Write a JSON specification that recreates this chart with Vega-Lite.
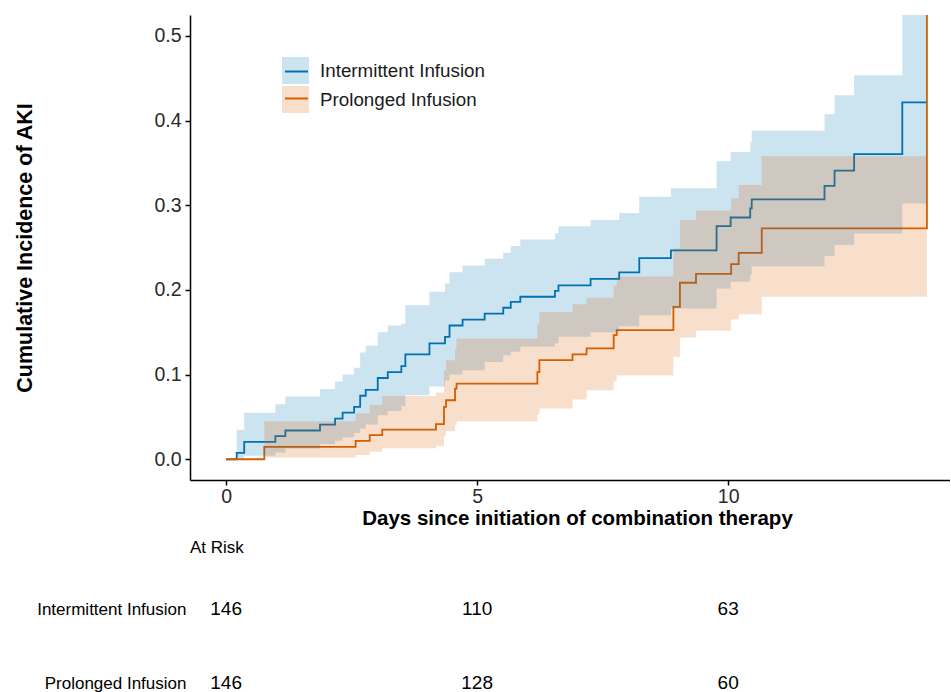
{
  "$schema": "https://vega.github.io/schema/vega-lite/v6.json",
  "padding": {"left": 14, "top": 15, "right": 0, "bottom": 0},
  "spacing": 10,
  "config": {
    "font": "Liberation Sans",
    "view": {"stroke": null},
    "axis": {"grid": false}
  },
  "resolve": {"scale": {"y": "independent"}},
  "datasets": {
    "curves": [
      {"group": "Intermittent Infusion", "time": 0, "est": 0, "lower": 0, "upper": 0},
      {"group": "Intermittent Infusion", "time": 0.21, "est": 0.0075, "lower": 0.001, "upper": 0.035},
      {"group": "Intermittent Infusion", "time": 0.36, "est": 0.0205, "lower": 0.004, "upper": 0.055},
      {"group": "Intermittent Infusion", "time": 0.98, "est": 0.0274, "lower": 0.008, "upper": 0.065},
      {"group": "Intermittent Infusion", "time": 1.18, "est": 0.034, "lower": 0.0126, "upper": 0.074},
      {"group": "Intermittent Infusion", "time": 1.87, "est": 0.041, "lower": 0.018, "upper": 0.083},
      {"group": "Intermittent Infusion", "time": 2.17, "est": 0.048, "lower": 0.022, "upper": 0.092},
      {"group": "Intermittent Infusion", "time": 2.32, "est": 0.055, "lower": 0.026, "upper": 0.1},
      {"group": "Intermittent Infusion", "time": 2.55, "est": 0.062, "lower": 0.031, "upper": 0.108},
      {"group": "Intermittent Infusion", "time": 2.67, "est": 0.075, "lower": 0.036, "upper": 0.126},
      {"group": "Intermittent Infusion", "time": 2.78, "est": 0.082, "lower": 0.041, "upper": 0.134},
      {"group": "Intermittent Infusion", "time": 3.02, "est": 0.096, "lower": 0.052, "upper": 0.15},
      {"group": "Intermittent Infusion", "time": 3.22, "est": 0.103, "lower": 0.057, "upper": 0.158},
      {"group": "Intermittent Infusion", "time": 3.49, "est": 0.11, "lower": 0.063, "upper": 0.16},
      {"group": "Intermittent Infusion", "time": 3.57, "est": 0.124, "lower": 0.0756, "upper": 0.182},
      {"group": "Intermittent Infusion", "time": 4.05, "est": 0.137, "lower": 0.086, "upper": 0.198},
      {"group": "Intermittent Infusion", "time": 4.36, "est": 0.1446, "lower": 0.093, "upper": 0.2075},
      {"group": "Intermittent Infusion", "time": 4.45, "est": 0.158, "lower": 0.1, "upper": 0.221},
      {"group": "Intermittent Infusion", "time": 4.71, "est": 0.165, "lower": 0.105, "upper": 0.229},
      {"group": "Intermittent Infusion", "time": 5.15, "est": 0.172, "lower": 0.115, "upper": 0.237},
      {"group": "Intermittent Infusion", "time": 5.52, "est": 0.179, "lower": 0.123, "upper": 0.244},
      {"group": "Intermittent Infusion", "time": 5.67, "est": 0.186, "lower": 0.127, "upper": 0.2518},
      {"group": "Intermittent Infusion", "time": 5.86, "est": 0.192, "lower": 0.133, "upper": 0.2597},
      {"group": "Intermittent Infusion", "time": 6.55, "est": 0.199, "lower": 0.137, "upper": 0.267},
      {"group": "Intermittent Infusion", "time": 6.62, "est": 0.2055, "lower": 0.1446, "upper": 0.2754},
      {"group": "Intermittent Infusion", "time": 7.26, "est": 0.213, "lower": 0.15, "upper": 0.2825},
      {"group": "Intermittent Infusion", "time": 7.83, "est": 0.2207, "lower": 0.157, "upper": 0.291},
      {"group": "Intermittent Infusion", "time": 8.23, "est": 0.2375, "lower": 0.17, "upper": 0.31},
      {"group": "Intermittent Infusion", "time": 8.86, "est": 0.2467, "lower": 0.178, "upper": 0.32},
      {"group": "Intermittent Infusion", "time": 9.77, "est": 0.2754, "lower": 0.2017, "upper": 0.352},
      {"group": "Intermittent Infusion", "time": 10.05, "est": 0.2856, "lower": 0.2096, "upper": 0.363},
      {"group": "Intermittent Infusion", "time": 10.44, "est": 0.2963, "lower": 0.218, "upper": 0.375},
      {"group": "Intermittent Infusion", "time": 10.47, "est": 0.307, "lower": 0.228, "upper": 0.388},
      {"group": "Intermittent Infusion", "time": 11.92, "est": 0.323, "lower": 0.24, "upper": 0.4075},
      {"group": "Intermittent Infusion", "time": 12.12, "est": 0.341, "lower": 0.253, "upper": 0.43},
      {"group": "Intermittent Infusion", "time": 12.51, "est": 0.3605, "lower": 0.2667, "upper": 0.4536},
      {"group": "Intermittent Infusion", "time": 13.47, "est": 0.4216, "lower": 0.302, "upper": 0.6},
      {"group": "Intermittent Infusion", "time": 13.95, "est": 0.4216, "lower": 0.302, "upper": 0.6},
      {"group": "Prolonged Infusion", "time": 0, "est": 0, "lower": 0, "upper": 0},
      {"group": "Prolonged Infusion", "time": 0.76, "est": 0.0146, "lower": 0.002, "upper": 0.045},
      {"group": "Prolonged Infusion", "time": 2.58, "est": 0.0217, "lower": 0.005, "upper": 0.054},
      {"group": "Prolonged Infusion", "time": 2.86, "est": 0.0284, "lower": 0.009, "upper": 0.064},
      {"group": "Prolonged Infusion", "time": 3.11, "est": 0.035, "lower": 0.013, "upper": 0.0746},
      {"group": "Prolonged Infusion", "time": 4.18, "est": 0.0414, "lower": 0.016, "upper": 0.079},
      {"group": "Prolonged Infusion", "time": 4.34, "est": 0.0618, "lower": 0.028, "upper": 0.105},
      {"group": "Prolonged Infusion", "time": 4.38, "est": 0.0697, "lower": 0.033, "upper": 0.117},
      {"group": "Prolonged Infusion", "time": 4.56, "est": 0.0835, "lower": 0.04, "upper": 0.13},
      {"group": "Prolonged Infusion", "time": 4.59, "est": 0.0894, "lower": 0.045, "upper": 0.1426},
      {"group": "Prolonged Infusion", "time": 6.2, "est": 0.103, "lower": 0.053, "upper": 0.16},
      {"group": "Prolonged Infusion", "time": 6.24, "est": 0.117, "lower": 0.06, "upper": 0.174},
      {"group": "Prolonged Infusion", "time": 6.9, "est": 0.124, "lower": 0.0705, "upper": 0.183},
      {"group": "Prolonged Infusion", "time": 7.18, "est": 0.131, "lower": 0.0815, "upper": 0.1907},
      {"group": "Prolonged Infusion", "time": 7.72, "est": 0.1466, "lower": 0.092, "upper": 0.205},
      {"group": "Prolonged Infusion", "time": 7.78, "est": 0.1525, "lower": 0.099, "upper": 0.216},
      {"group": "Prolonged Infusion", "time": 8.91, "est": 0.18, "lower": 0.121, "upper": 0.249},
      {"group": "Prolonged Infusion", "time": 9.04, "est": 0.2085, "lower": 0.1438, "upper": 0.2825},
      {"group": "Prolonged Infusion", "time": 9.36, "est": 0.219, "lower": 0.1517, "upper": 0.294},
      {"group": "Prolonged Infusion", "time": 10.06, "est": 0.2305, "lower": 0.165, "upper": 0.308},
      {"group": "Prolonged Infusion", "time": 10.21, "est": 0.2439, "lower": 0.1714, "upper": 0.324},
      {"group": "Prolonged Infusion", "time": 10.67, "est": 0.2727, "lower": 0.192, "upper": 0.358},
      {"group": "Prolonged Infusion", "time": 13.96, "est": 1.0, "lower": 0.192, "upper": 0.358}
    ],
    "risk": [
      {"group": "Intermittent Infusion", "time": 0, "n": 146},
      {"group": "Intermittent Infusion", "time": 5, "n": 110},
      {"group": "Intermittent Infusion", "time": 10, "n": 63},
      {"group": "Prolonged Infusion", "time": 0, "n": 146},
      {"group": "Prolonged Infusion", "time": 5, "n": 128},
      {"group": "Prolonged Infusion", "time": 10, "n": 60}
    ]
  },
  "vconcat": [
    {
      "width": 760,
      "height": 465,
      "data": {"name": "curves"},
      "encoding": {
        "x": {
          "field": "time",
          "type": "quantitative",
          "scale": {"domain": [-0.72, 14.42], "nice": false, "zero": false},
          "axis": {
            "values": [0, 5, 10],
            "title": "Days since initiation of combination therapy",
            "titleFontSize": 20.5,
            "titleFontWeight": "bold",
            "titleColor": "#000000",
            "titlePadding": 3,
            "titleX": 387,
            "labelFontSize": 19.5,
            "labelColor": "#2a2a2a",
            "labelPadding": 2,
            "labelFlush": false,
            "tickSize": 5,
            "tickWidth": 1.5,
            "tickColor": "#000000",
            "domainColor": "#000000",
            "domainWidth": 1.5
          }
        }
      },
      "layer": [
        {
          "mark": {"type": "line", "interpolate": "step-after", "strokeWidth": 1.8, "clip": true},
          "encoding": {
            "y": {
              "field": "est",
              "type": "quantitative",
              "scale": {"domain": [-0.0245, 0.5248], "nice": false, "zero": false},
              "axis": {
                "values": [0, 0.1, 0.2, 0.3, 0.4, 0.5],
                "format": ".1f",
                "title": "Cumulative Incidence of AKI",
                "titleFontSize": 21.5,
                "titleFontWeight": "bold",
                "titleColor": "#000000",
                "titlePadding": 117,
                "labelFontSize": 19.5,
                "labelColor": "#2a2a2a",
                "labelPadding": 4,
                "tickSize": 5,
                "tickWidth": 1.5,
                "tickColor": "#000000",
                "domainColor": "#000000",
                "domainWidth": 1.5
              }
            },
            "stroke": {
              "field": "group",
              "type": "nominal",
              "scale": {"domain": ["Intermittent Infusion", "Prolonged Infusion"], "range": ["#0072B2", "#D55E00"]},
              "legend": {
                "orient": "none",
                "legendX": 92,
                "legendY": 42,
                "title": null,
                "padding": 0,
                "symbolType": "M-0.85,0H0.85",
                "symbolSize": 729,
                "symbolStrokeWidth": 2,
                "symbolFillColor": "transparent",
                "labelFontSize": 18.8,
                "labelExpr": "''",
                "labelOffset": 11,
                "rowPadding": 2
              }
            }
          }
        },
        {
          "mark": {"type": "area", "interpolate": "step-after", "opacity": 0.2, "clip": true},
          "encoding": {
            "y": {
              "field": "lower",
              "type": "quantitative",
              "scale": {"domain": [-0.0245, 0.5248], "nice": false, "zero": false},
              "title": "Cumulative Incidence of AKI"
            },
            "y2": {"field": "upper"},
            "fill": {
              "field": "group",
              "type": "nominal",
              "scale": {"range": ["#0072B2", "#D55E00"]},
              "legend": {
                "orient": "none",
                "legendX": 92,
                "legendY": 42,
                "title": null,
                "padding": 0,
                "symbolType": "square",
                "symbolSize": 729,
                "symbolOpacity": 0.2,
                "symbolStrokeWidth": 0,
                "labelFontSize": 18.8,
                "labelLimit": 400,
                "labelColor": "#1a1a1a",
                "labelOffset": 11,
                "rowPadding": 2
              }
            }
          }
        }
      ]
    },
    {
      "width": 760,
      "height": 74,
      "data": {"name": "risk"},
      "title": {"text": "At Risk", "anchor": "start", "frame": "group", "fontSize": 17, "fontWeight": "normal", "color": "#000000", "offset": 43},
      "mark": {"type": "text", "fontSize": 19, "baseline": "middle", "align": "center", "color": "#000000"},
      "encoding": {
        "x": {
          "field": "time",
          "type": "quantitative",
          "scale": {"domain": [-0.72, 14.42], "nice": false, "zero": false},
          "axis": null
        },
        "y": {
          "field": "group",
          "type": "nominal",
          "scale": {"type": "point", "padding": 0},
          "axis": {"title": null, "domain": false, "ticks": false, "labelFontSize": 17, "labelLimit": 300, "labelPadding": 4, "labelColor": "#000000"}
        },
        "text": {"field": "n", "type": "quantitative"}
      }
    }
  ]
}
